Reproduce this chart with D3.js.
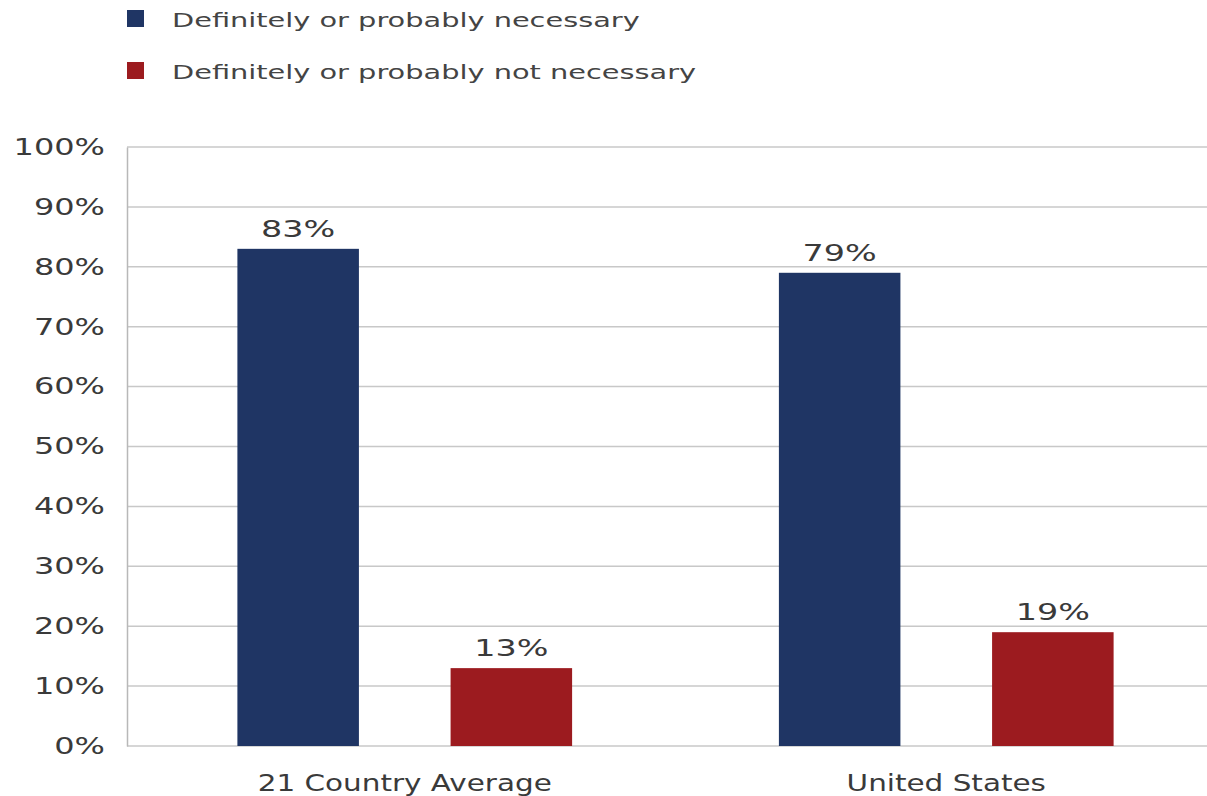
<!DOCTYPE html>
<html>
<head>
<meta charset="utf-8">
<script src="https://cdn.jsdelivr.net/npm/d3@7"></script>
<style>
  body { margin: 0; background: #fff; }
  text { font-family: "DejaVu Sans", Verdana, sans-serif; }
</style>
</head>
<body>
<div class="chart"></div>
<script>
// data
const categories = ['21 Country Average', 'United States'];
const series = ['Definitely or probably necessary', 'Definitely or probably not necessary'];
const necessary = [83, 79];
const notNecessary = [13, 19];
const yTicks = [0, 10, 20, 30, 40, 50, 60, 70, 80, 90, 100];
const colors = ['#1f3564', '#9c1b1f'];

const W = 1207, H = 796;
const margin = { top: 147, right: 0, bottom: 50, left: 127 };
const height = H - margin.top - margin.bottom;

// the source picture is stretched sideways, so widen the glyphs to match
function stretch(sel, k) {
  sel.each(function () {
    const w = this.getComputedTextLength();
    d3.select(this)
      .attr('textLength', w * k)
      .attr('lengthAdjust', 'spacingAndGlyphs');
  });
}

const svg = d3.select('.chart')
  .append('svg')
  .attr('width', W)
  .attr('height', H);

const yScale = d3.scaleLinear()
  .domain([0, 100])
  .range([margin.top + height, margin.top]);

// plot continues a little past the right edge of the picture
const x0 = d3.scaleBand()
  .domain(categories)
  .range([134, 1217]);

const x1 = d3.scaleBand()
  .domain(series)
  .range([0, x0.bandwidth()])
  .paddingInner(0.43)
  .paddingOuter(0.485);

// gridlines
svg.append('g')
  .selectAll('line')
  .data(yTicks)
  .join('line')
  .attr('x1', margin.left)
  .attr('x2', W)
  .attr('y1', d => yScale(d))
  .attr('y2', d => yScale(d))
  .attr('stroke', '#c8c8c8')
  .attr('stroke-width', 1.5);

// y axis
const yAxis = d3.axisLeft(yScale)
  .tickValues(yTicks)
  .tickSize(0)
  .tickPadding(22)
  .tickFormat(d => d + '%');

const yG = svg.append('g')
  .attr('transform', `translate(${margin.left}, 0)`)
  .call(yAxis);
yG.select('.domain').attr('stroke', '#b8b8b8').attr('stroke-width', 1.5);
yG.selectAll('text')
  .attr('fill', '#3a3a3a')
  .style('font-size', '23px')
  .call(stretch, 1.39);

// bars
const rows = categories.map((c, i) => ({
  cat: c,
  vals: [
    { s: series[0], v: necessary[i] },
    { s: series[1], v: notNecessary[i] }
  ]
}));

const groups = svg.append('g')
  .selectAll('g')
  .data(rows)
  .join('g')
  .attr('transform', d => `translate(${x0(d.cat)}, 0)`);

groups.selectAll('rect')
  .data(d => d.vals)
  .join('rect')
  .attr('x', d => x1(d.s))
  .attr('width', x1.bandwidth())
  .attr('y', d => yScale(d.v))
  .attr('height', d => yScale(0) - yScale(d.v))
  .attr('fill', (d, i) => colors[i]);

groups.selectAll('text')
  .data(d => d.vals)
  .join('text')
  .attr('x', d => x1(d.s) + x1.bandwidth() / 2)
  .attr('y', d => yScale(d.v) - 12)
  .attr('text-anchor', 'middle')
  .attr('fill', '#3a3a3a')
  .style('font-size', '23px')
  .text(d => d.v + '%')
  .call(stretch, 1.45);

// x axis labels
const xAxis = d3.axisBottom(x0).tickSize(0).tickPadding(29);
const xG = svg.append('g')
  .attr('transform', `translate(0, ${yScale(0)})`)
  .call(xAxis);
xG.select('.domain').remove();
xG.selectAll('text')
  .attr('fill', '#3a3a3a')
  .style('font-size', '23px')
  .call(stretch, 1.28);

// legend
const legend = svg.append('g')
  .selectAll('g')
  .data(series)
  .join('g')
  .attr('transform', (d, i) => `translate(127, ${10 + i * 52})`);

legend.append('rect')
  .attr('width', 17)
  .attr('height', 17)
  .attr('fill', (d, i) => colors[i]);

legend.append('text')
  .attr('x', 45)
  .attr('y', 17)
  .attr('fill', '#444')
  .style('font-size', '20px')
  .text(d => d)
  .call(stretch, 1.44);
</script>
</body>
</html>
